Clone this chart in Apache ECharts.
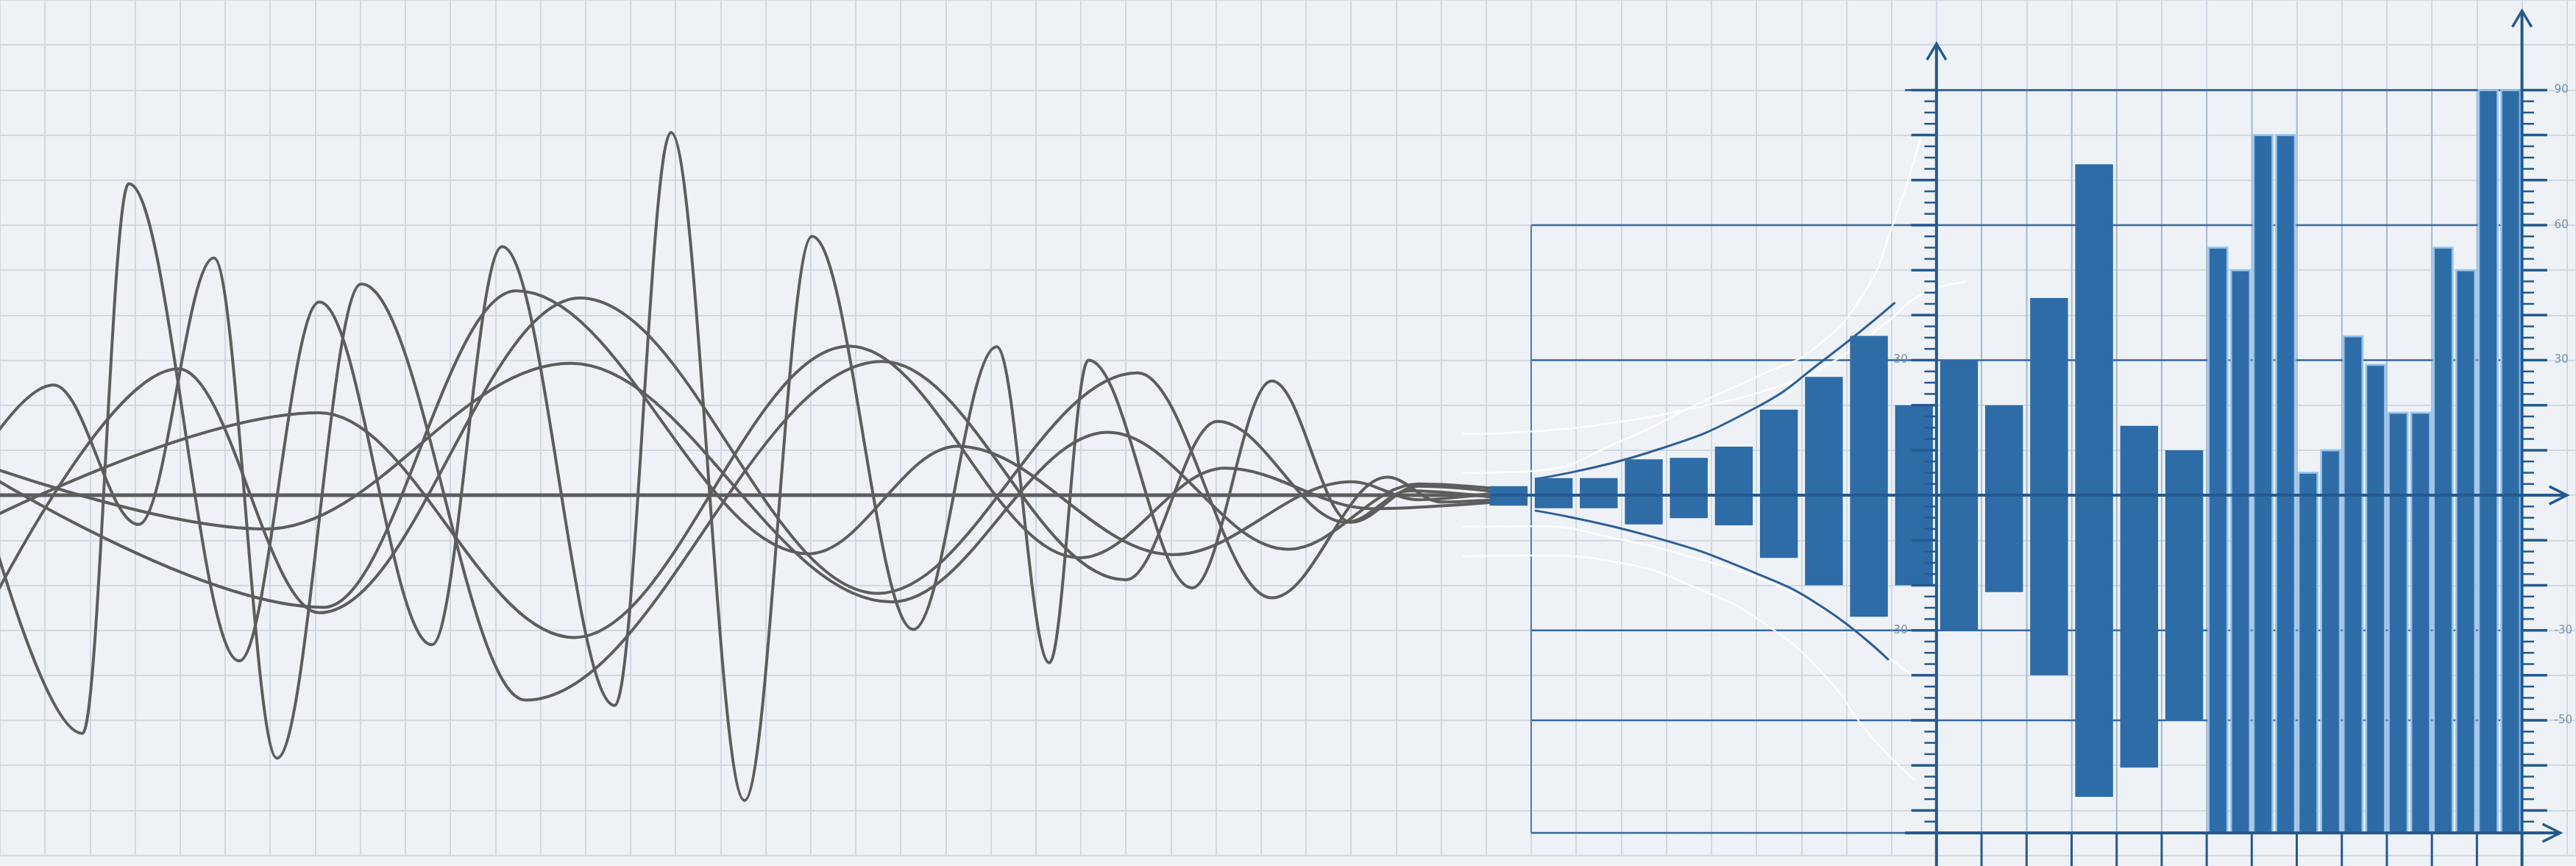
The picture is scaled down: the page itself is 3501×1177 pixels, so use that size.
<!DOCTYPE html>
<html>
<head>
<meta charset="utf-8">
<script src="https://cdn.jsdelivr.net/npm/echarts@6/dist/echarts.min.js"></script>
<style>
html,body{margin:0;padding:0;background:#eef2f6;}
#c{width:3501px;height:1177px;}
</style>
</head>
<body>
<div id="c"></div>
<script>
// ---------- DATA (x in grid cells, y in value units; 10 units = one grid cell) ----------
// wave extremes (peaks / troughs)
const waveA = [[-1.2,30],[1.83,-52.9],[2.86,69.2],[5.31,-36.8],[7.09,42.9],[9.59,-33.2],[11.15,55.2],[13.65,-46.7],[14.9,80.6],[16.53,-67.8],[18.03,57.5],[20.28,-29.8],[22.13,33],[23.3,-37.2],[24.17,30],[26.47,-20.6],[28.24,25.4],[30.0,-6],[31.5,2],[33.2,0.8]];
const waveB = [[-1.5,-10],[1.19,24.5],[3.08,-6.5],[4.75,52.7],[6.15,-58.4],[8.02,46.9],[11.67,-45.5],[19.59,29.7],[25.0,-18.8],[27.03,16.4],[29.9,-6],[31.3,1],[33.2,-0.5]];
const waveC = [[-0.8,-36],[3.96,28.1],[7.09,-26.1],[12.88,43.8],[19.49,-21.8],[25.26,27.2],[28.24,-22.8],[30.8,4],[32,-1.5],[33.2,-1]];
const waveD = [[-0.5,6],[7.19,-24.9],[11.46,45.4],[17.96,-13],[21.26,10.9],[26.05,-13.2],[30,3],[31.5,-1],[33.2,0.5]];
const waveE = [[-1,-9],[7.09,18.3],[12.75,-31.6],[18.86,33.1],[23.97,-13.9],[27.2,6],[30.5,-3],[33.2,-1.5]];
const waveF = [[-1,9],[5.9,-7.5],[12.67,29.3],[19.8,-23.7],[24.6,14],[28.6,-12],[31.5,2.5],[33.2,1.5]];
const flatLine = [[0,0],[33.2,0]];

const envelopeUpper = [[34.08,3.6],[36.61,9.5],[38.96,19.3],[40.52,30.2],[42.08,42.8]];
const envelopeLower = [[34.08,-3.4],[36.61,-9.0],[38.96,-17.2],[40.52,-25.2],[41.94,-36.6]];

const glowA = [[32.48,4.9],[34.08,5.4],[35.97,11.9],[37.72,20.4],[39.18,27.1],[40.27,32.5],[41.37,44.6],[42.02,59.8],[42.64,79.2]];
const glowB = [[32.48,13.6],[34.08,14.2],[35.97,16.3],[37.72,19.6],[39.24,23.4],[40.55,28.8],[41.86,38.1],[42.67,44.6],[43.65,47.4]];
const glowC = [[32.48,-7.0],[34.08,-6.9],[35.97,-9.8],[37.72,-14.2],[39.24,-19.1],[40.55,-25.7],[41.86,-35.5],[42.51,-40.4]];
const glowD = [[32.48,-13.6],[34.08,-13.4],[35.97,-15.0],[37.72,-20.8],[39.24,-28.9],[40.55,-40.4],[41.53,-53.4],[42.51,-63.2]];

const wideBarX    = [33.5,34.5,35.5,36.5,37.5,38.5,39.5,40.5,41.5,42.5,43.5,44.5,45.5,46.5,47.5,48.5];
const wideBarLow  = [-2.3,-2.9,-2.9,-6.5,-5.1,-6.7,-13.9,-20,-27,-20,-30,-21.5,-40,-67,-60.5,-50];
const wideBarHigh = [2.0,3.8,3.8,8.0,8.3,10.8,19,26.3,35.4,20,30,20,43.8,73.5,15.4,10];

const narrowBarX    = [49.25,49.75,50.25,50.75,51.25,51.75,52.25,52.75,53.25,53.75,54.25,54.75,55.25,55.75];
const narrowBarHigh = [55,50,80,80,5,10,35.3,29,18.3,18.3,55,50,90,90];
const BAR_BASE = -75;

const majorTicks = [90,80,70,60,50,40,30,20,10,0,-10,-20,-30,-40,-50,-60,-70];
const frameLineValues = [60,30,-30,-50];
const bottomTickX = [44,45,46,47,48,49,50,51,52,53,54,55];
const rightLabelValues = [90,60,30,-30,-50];
const rightLabels = ['90','60','30','-30','-50'];
const leftLabelValues = [30,-30];
const leftLabels = ['30','-30'];

// ---------- STYLE / LAYOUT ----------
const AXIS_BLUE = '#24598f';
const LINE_BLUE = '#3a69a0';
const BAR_COLOR = '#2e6ca8';
const WAVE_COLOR = '#5d5d5d';
const LEFT_AXIS_X = 43, RIGHT_AXIS_X = 56, FRAME_X = 34;

const chart = echarts.init(document.getElementById('c'), null, {renderer:'canvas', width:3501, height:1177});

function mkLine(api, ch, x1, y1, x2, y2, color, w) {
  const a = api.coord([x1, y1]), b = api.coord([x2, y2]);
  ch.push({type:'line', shape:{x1:a[0], y1:a[1], x2:b[0], y2:b[1]}, style:{stroke:color, lineWidth:w, lineCap:'butt'}});
}
function mkText(api, ch, x, y, txt, align) {
  const p = api.coord([x, y]);
  ch.push({type:'text', x:p[0], y:p[1], style:{text:txt, fill:'#7890ad', font:'15px "DejaVu Sans", sans-serif',
    align:align, verticalAlign:'middle', textAlign:align, textVerticalAlign:'middle'}});
}

function renderFrame(params, api) {
  const ch = [];
  for (const x of bottomTickX) mkLine(api, ch, x, BAR_BASE, x, 90, 'rgba(70,115,170,0.30)', 2);
  mkLine(api, ch, 42.3, 90, 56.55, 90, LINE_BLUE, 3);
  for (const v of frameLineValues) mkLine(api, ch, FRAME_X, v, 56.55, v, LINE_BLUE, 2.5);
  mkLine(api, ch, FRAME_X, BAR_BASE, 42.3, BAR_BASE, LINE_BLUE, 2.5);
  mkLine(api, ch, FRAME_X, 60, FRAME_X, BAR_BASE, '#4d7aad', 2);
  return {type:'group', children:ch};
}

function arrowUp(api, ch, x, y) {
  const p = api.coord([x, y]);
  ch.push({type:'polyline', shape:{points:[[p[0]-13, p[1]+22],[p[0], p[1]],[p[0]+13, p[1]+22]]}, style:{stroke:AXIS_BLUE, lineWidth:3.5, fill:null}});
}
function arrowRight(api, ch, x, y) {
  const p = api.coord([x, y]);
  ch.push({type:'polyline', shape:{points:[[p[0]-24, p[1]-12],[p[0], p[1]],[p[0]-24, p[1]+12]]}, style:{stroke:AXIS_BLUE, lineWidth:3.5, fill:null}});
}

function renderAxes(params, api) {
  const ch = [];
  for (let v = BAR_BASE; v <= 90; v += 2.5) {
    const major = majorTicks.indexOf(v) >= 0;
    const len = major ? 0.56 : 0.27;
    const w = major ? 3.5 : 2.5;
    mkLine(api, ch, LEFT_AXIS_X - len, v, LEFT_AXIS_X, v, AXIS_BLUE, w);
    mkLine(api, ch, RIGHT_AXIS_X, v, RIGHT_AXIS_X + len, v, AXIS_BLUE, w);
  }
  for (const x of bottomTickX) mkLine(api, ch, x, BAR_BASE, x, -82.6, AXIS_BLUE, 3);
  mkLine(api, ch, LEFT_AXIS_X, 100.3, LEFT_AXIS_X, -82.6, AXIS_BLUE, 4);
  mkLine(api, ch, RIGHT_AXIS_X, 107.6, RIGHT_AXIS_X, -82.6, AXIS_BLUE, 4);
  mkLine(api, ch, 33.1, 0, 57.0, 0, AXIS_BLUE, 4);
  mkLine(api, ch, 42.3, BAR_BASE, 56.85, BAR_BASE, AXIS_BLUE, 4);
  arrowUp(api, ch, LEFT_AXIS_X, 100.3);
  arrowUp(api, ch, RIGHT_AXIS_X, 107.6);
  arrowRight(api, ch, 57.0, 0);
  arrowRight(api, ch, 56.85, BAR_BASE);
  rightLabelValues.forEach((v, i) => mkText(api, ch, 56.72, v, rightLabels[i], 'left'));
  leftLabelValues.forEach((v, i) => mkText(api, ch, 42.36, v, leftLabels[i], 'right'));
  return {type:'group', children:ch};
}

const series = [];
series.push({type:'line', data:flatLine, showSymbol:false, silent:true, lineStyle:{color:WAVE_COLOR, width:5}, z:2});
[waveA, waveB, waveC, waveD, waveE, waveF].forEach(w => series.push({
  type:'line', data:w, smooth:0.36, smoothMonotone:'x', showSymbol:false, silent:true, clip:true,
  lineStyle:{color:WAVE_COLOR, width:4}, z:2
}));
[glowA, glowB, glowC, glowD].forEach(w => series.push({
  type:'line', data:w, smooth:0.5, showSymbol:false, silent:true, lineStyle:{color:'rgba(255,255,255,0.9)', width:2.5}, z:3
}));
[envelopeUpper, envelopeLower].forEach(w => series.push({
  type:'line', data:w, smooth:0.5, showSymbol:false, silent:true, lineStyle:{color:'#2d5e94', width:3}, z:4
}));
series.push({type:'custom', data:[[0,0]], renderItem:renderFrame, silent:true, clip:false, z:1});
series.push({
  type:'custom', clip:false, silent:true, z:5,
  data: wideBarX.map((x, i) => [x, wideBarLow[i], wideBarHigh[i]]),
  encode:{x:0, y:[1,2]},
  renderItem:(p, api) => {
    const x = api.value(0), lo = api.value(1), hi = api.value(2);
    const a = api.coord([x - 0.42, hi]), b = api.coord([x + 0.42, lo]);
    return {type:'rect', shape:{x:a[0], y:a[1], width:b[0]-a[0], height:b[1]-a[1]}, style:{fill:BAR_COLOR}};
  }
});
series.push({
  type:'custom', clip:false, silent:true, z:5,
  data: narrowBarX.map((x, i) => [x, BAR_BASE, narrowBarHigh[i]]),
  encode:{x:0, y:[1,2]},
  renderItem:(p, api) => {
    const x = api.value(0), lo = api.value(1), hi = api.value(2);
    const a = api.coord([x - 0.21, hi]), b = api.coord([x + 0.21, lo]);
    return {type:'rect', shape:{x:a[0], y:a[1], width:b[0]-a[0], height:b[1]-a[1]},
      style:{fill:BAR_COLOR, stroke:'rgba(155,200,238,0.85)', lineWidth:3}};
  }
});
series.push({type:'custom', data:[[0,0]], renderItem:renderAxes, silent:true, clip:false, z:6});

chart.setOption({
  animation:false,
  backgroundColor:'#eef2f6',
  grid:{left:0, right:0, top:0, bottom:14.4, containLabel:false},
  xAxis:{type:'value', min:0, max:57.2, interval:1,
    axisLine:{show:false}, axisTick:{show:false}, axisLabel:{show:false},
    splitLine:{show:true, lineStyle:{color:'#d0d8e2', width:2}}},
  yAxis:{type:'value', min:-80, max:110, interval:10,
    axisLine:{show:false}, axisTick:{show:false}, axisLabel:{show:false},
    splitLine:{show:true, lineStyle:{color:'#d0d8e2', width:2}}},
  series:series
});
</script>
</body>
</html>
